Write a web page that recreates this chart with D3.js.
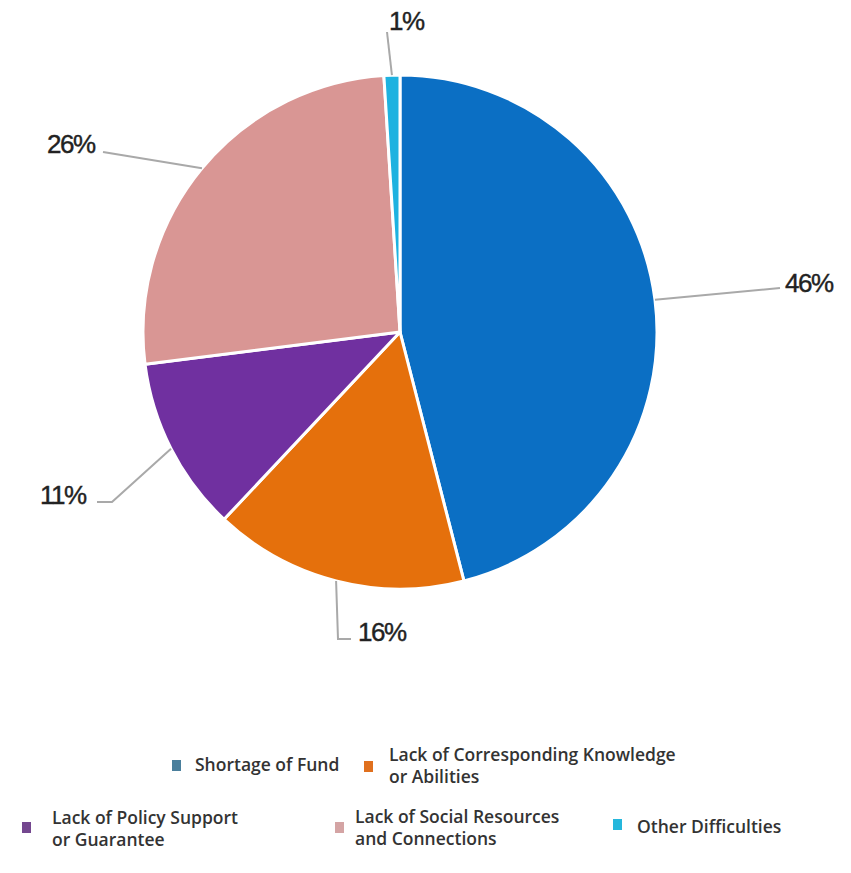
<!DOCTYPE html>
<html>
<head>
<meta charset="utf-8">
<script src="https://cdn.jsdelivr.net/npm/d3@7"></script>
<style>
  body { margin: 0; background: #fff; }
  svg { display: block; }
</style>
</head>
<body>
<svg id="chart" width="851" height="873"></svg>
<script>
"use strict";

// chart data
var categories = [
  "Shortage of Fund",
  "Lack of Corresponding Knowledge or Abilities",
  "Lack of Policy Support or Guarantee",
  "Lack of Social Resources and Connections",
  "Other Difficulties"
];
var shares = [46, 16, 11, 26, 1];
var pctLabels = ["46%", "16%", "11%", "26%", "1%"];

// legend text is wrapped in two lines in the original
var legendLines = [
  ["Shortage of Fund"],
  ["Lack of Corresponding Knowledge", "or Abilities"],
  ["Lack of Policy Support", "or Guarantee"],
  ["Lack of Social Resources", "and Connections"],
  ["Other Difficulties"]
];

var sliceColors = ["#0b6fc4", "#e5700c", "#7030a0", "#d99694", "#1eb2e0"];
var legendColors = ["#4a7f9c", "#e0701e", "#74478f", "#d4a4a4", "#25b7dc"];

// layout
var cx = 400, cy = 332, radius = 257;

// where each percentage label sits, and the elbow of its leader line
var labelLayout = [
  { pts: [[780, 288]], tx: 785, ty: 292 },
  { pts: [[338, 639], [351, 639]], tx: 358, ty: 641 },
  { pts: [[112, 502], [97, 502]], tx: 40, ty: 504 },
  { pts: [[103, 152]], tx: 47, ty: 153 },
  { pts: [[387, 32]], tx: 389, ty: 30 }
];

var legendLayout = [
  { x: 172, y: 760, tx: 195, ty: 771 },
  { x: 364, y: 761, tx: 389, ty: 761 },
  { x: 22, y: 822, tx: 52, ty: 824 },
  { x: 335, y: 822, tx: 355, ty: 823 },
  { x: 613, y: 819, tx: 637, ty: 833 }
];

var svg = d3.select("#chart");

var pie = d3.pie().sort(null).value(function (d) { return d; });
var arcs = pie(shares);
var arc = d3.arc().innerRadius(0).outerRadius(radius);

var g = svg.append("g").attr("transform", "translate(" + cx + "," + cy + ")");

g.selectAll("path.slice")
  .data(arcs)
  .enter().append("path")
  .attr("class", "slice")
  .attr("d", arc)
  .style("fill", function (d, i) { return sliceColors[i]; })
  .style("stroke", "#fff")
  .style("stroke-width", 3)
  .style("stroke-linejoin", "round");

// leader lines start on the rim at the middle angle of each slice
var line = d3.line();
svg.selectAll("path.leader")
  .data(arcs)
  .enter().append("path")
  .attr("class", "leader")
  .attr("d", function (d, i) {
    var a = (d.startAngle + d.endAngle) / 2;
    var start = [cx + radius * Math.sin(a), cy - radius * Math.cos(a)];
    return line([start].concat(labelLayout[i].pts));
  })
  .style("fill", "none")
  .style("stroke", "#a9a9a9")
  .style("stroke-width", 2);

svg.selectAll("text.pct")
  .data(pctLabels)
  .enter().append("text")
  .attr("class", "pct")
  .attr("x", function (d, i) { return labelLayout[i].tx; })
  .attr("y", function (d, i) { return labelLayout[i].ty; })
  .text(function (d) { return d; })
  .style("font-family", "'Liberation Sans', Arial, sans-serif")
  .style("font-size", "26px")
  .style("letter-spacing", "-1.5px")
  .style("stroke", "#222")
  .style("stroke-width", 0.4)
  .style("fill", "#222");

// legend
var legend = svg.append("g").attr("id", "legend");
categories.forEach(function (c, i) {
  var L = legendLayout[i];
  legend.append("rect")
    .attr("x", L.x)
    .attr("y", L.y)
    .attr("width", 9)
    .attr("height", 11)
    .style("fill", legendColors[i]);
  var t = legend.append("text")
    .attr("x", L.tx)
    .attr("y", L.ty)
    .style("font-family", "'Open Sans', 'Noto Sans', sans-serif")
    .style("font-weight", 600)
    .style("font-size", "17.5px")
    .style("fill", "#333");
  legendLines[i].forEach(function (s, j) {
    t.append("tspan")
      .attr("x", L.tx)
      .attr("dy", j === 0 ? 0 : 22)
      .text(s);
  });
});
</script>
</body>
</html>
